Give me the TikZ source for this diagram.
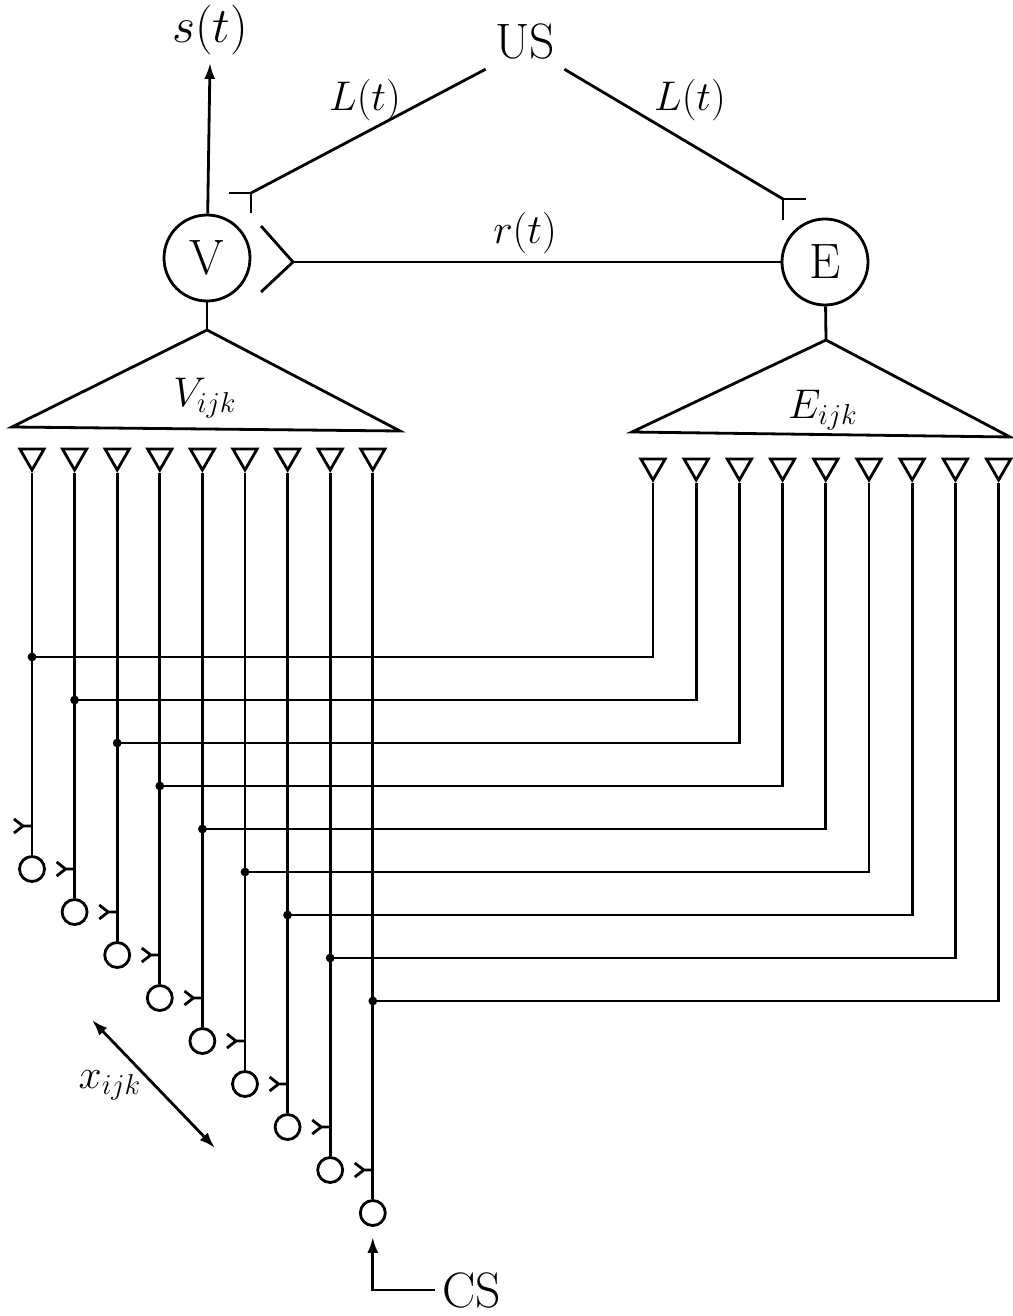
\documentclass[tikz,border=0pt]{standalone}
\usepackage{amsmath}
\usetikzlibrary{shapes.geometric,arrows.meta,positioning,calc}

\begin{document}
\begin{tikzpicture}[
    x=0.5pt,y=-0.5pt,
    line width=1.4pt,
    cell/.style={circle,draw,minimum size=43pt,inner sep=0pt,font=\Huge},
    unit/.style={circle,draw,minimum size=12.5pt,inner sep=0pt},
    horn/.style={regular polygon,regular polygon sides=3,shape border rotate=180,draw,minimum size=14pt,inner sep=0pt},
    lbl/.style={font=\Huge},
    sublbl/.style={font=\huge},
    arrow/.style={-{Latex[length=8pt,width=5.5pt]}}
    ]
    \useasboundingbox (0,0) rectangle (1012,1316);

    % top: US, V and E
    \node[lbl,inner sep=4pt] (US) at (525,42) {US};
    \node[cell] (V) at (207,258) {V};
    \node[cell] (E) at (825,262) {E};

    \node[lbl] (st) at (210,30) {$s(t)$};
    \draw[arrow] (V) -- (st.south);

    \coordinate (Ljun) at (251,193);
    \coordinate (Rjun) at (783,199);
    \draw (US.south west) -- (Ljun);
    \draw (229,193) -- (Ljun) -- ++(0,20);
    \draw (US.south east) -- (Rjun);
    \draw (806,199) -- (Rjun) -- ++(0,21);
    \node[font=\fontsize{22}{26}\selectfont] (Ll) at (365,100) {$L(t)$};
    \node[font=\fontsize{22}{26}\selectfont] (Lr) at (690,100) {$L(t)$};

    \coordinate (Vsyn) at (293,262);
    \draw (261,226) -- (Vsyn) -- (261,292);
    \draw (Vsyn) -- (E);
    \node[sublbl] (rt) at (525,233) {$r(t)$};

    % output stages
    \coordinate (Vapex) at (207,330);
    \draw (V) -- (Vapex);
    \draw (Vapex) -- (12,427) -- (400,431) -- cycle;
    \node[sublbl] (Vlbl) at (205,398) {$V_{ijk}$};

    \coordinate (Eapex) at (826,340);
    \draw (E) -- (Eapex);
    \draw (Eapex) -- (632,432) -- (1010,437) -- cycle;
    \node[sublbl] (Elbl) at (823,410) {$E_{ijk}$};

    % the nine channels
    \foreach \k in {0,...,8}{
      \pgfmathsetmacro\vx{32+42.6*\k}
      \pgfmathsetmacro\ex{653+43.2*\k}
      \pgfmathsetmacro\hy{657+43*\k}
      \pgfmathsetmacro\my{826+43*\k}
      \pgfmathsetmacro\cy{869+43*\k}
      \node[horn] (vt\k) at (\vx,456) {};
      \node[horn] (et\k) at (\ex,466) {};
      \node[unit] (vc\k) at (\vx,\cy) {};
      \coordinate (vd\k) at (\vx,\hy);
      \draw (vt\k.south) -- (vc\k.north);
      \fill (vd\k) circle (2.2pt);
      \draw (vd\k) -| (et\k.south);
      \draw (\vx-18,\my-7) -- (\vx-9,\my) -- (\vx-18,\my+7) (\vx-9,\my) -- (\vx,\my);
    }

    % spacing arrow and CS input
    \coordinate (xa) at (92,1020);
    \coordinate (xb) at (215,1148);
    \draw[{Latex[length=8pt,width=5.5pt]}-{Latex[length=8pt,width=5.5pt]}] (xa) -- (xb);
    \node[sublbl] (xl) at (110,1085) {$x_{ijk}$};

    \node[lbl] (CS) at (472,1290) {CS};
    \draw[arrow,shorten >=5pt] (CS.west) -| (vc8.south);

  \end{tikzpicture}
\end{document}
